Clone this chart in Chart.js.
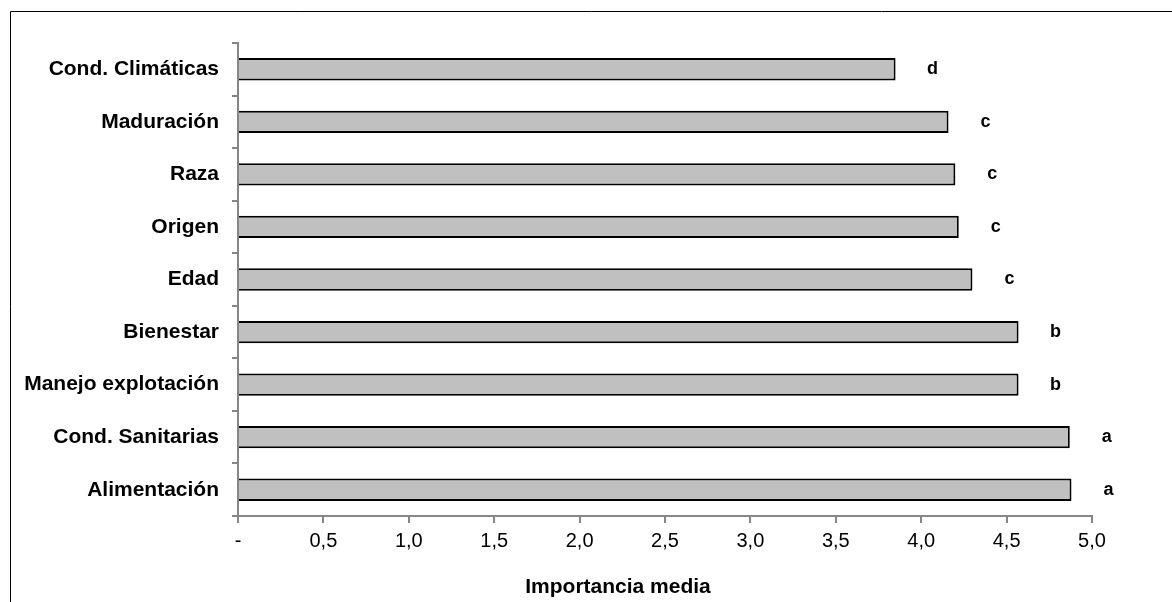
<!DOCTYPE html>
<html>
<head>
<meta charset="utf-8">
<script src="https://cdn.jsdelivr.net/npm/chart.js@4/dist/chart.umd.min.js"></script>
<style>
  html, body { margin: 0; padding: 0; background: #fff; }
  #wrap { width: 1172px; height: 602px; position: relative; }
</style>
</head>
<body>
<div id="wrap"><canvas id="c" width="1172" height="602"></canvas></div>
<script>
const categories = ['Cond. Climáticas', 'Maduración', 'Raza', 'Origen', 'Edad', 'Bienestar', 'Manejo explotación', 'Cond. Sanitarias', 'Alimentación'];
const meanImportance = [3.85, 4.16, 4.20, 4.22, 4.30, 4.57, 4.57, 4.87, 4.88];
const sigLetters = ['d', 'c', 'c', 'c', 'c', 'b', 'b', 'a', 'a'];
const xTickLabels = ['-', '0,5', '1,0', '1,5', '2,0', '2,5', '3,0', '3,5', '4,0', '4,5', '5,0'];
const xTitle = 'Importancia media';

const frame = {
  id: 'frame',
  beforeDraw(chart) {
    const ctx = chart.ctx;
    ctx.save();
    ctx.fillStyle = '#fff';
    ctx.fillRect(0, 0, chart.width, chart.height);
    ctx.strokeStyle = '#000';
    ctx.lineWidth = 1;
    ctx.beginPath();
    ctx.moveTo(10.5, chart.height);
    ctx.lineTo(10.5, 11.5);
    ctx.lineTo(chart.width, 11.5);
    ctx.stroke();
    ctx.restore();
  }
};

const letters = {
  id: 'letters',
  afterDatasetsDraw(chart) {
    const ctx = chart.ctx;
    const meta = chart.getDatasetMeta(0);
    ctx.save();
    ctx.fillStyle = '#000';
    ctx.font = 'bold 18px "Liberation Sans", Arial, sans-serif';
    ctx.textAlign = 'center';
    ctx.textBaseline = 'middle';
    meta.data.forEach((bar, i) => {
      ctx.fillText(sigLetters[i], bar.x + 37, bar.y);
    });
    ctx.restore();
  }
};

const axisTitle = {
  id: 'axisTitle',
  afterDraw(chart) {
    const ctx = chart.ctx;
    const a = chart.chartArea;
    ctx.save();
    ctx.fillStyle = '#000';
    ctx.font = 'bold 21px "Liberation Sans", Arial, sans-serif';
    ctx.textAlign = 'center';
    ctx.textBaseline = 'middle';
    ctx.fillText(xTitle, (a.left + a.right) / 2 - 47, a.bottom + 71);
    ctx.restore();
  }
};

new Chart(document.getElementById('c'), {
  type: 'bar',
  data: {
    labels: categories,
    datasets: [{
      data: meanImportance,
      backgroundColor: '#c0c0c0',
      borderColor: '#000',
      borderWidth: 2,
      borderSkipped: 'start',
      barPercentage: 0.425,
      categoryPercentage: 1.0
    }]
  },
  options: {
    indexAxis: 'y',
    responsive: false,
    animation: false,
    devicePixelRatio: 1,
    layout: { padding: { left: 0, top: 43, right: 80, bottom: 0 } },
    plugins: { legend: { display: false }, tooltip: { enabled: false } },
    scales: {
      x: {
        min: 0, max: 5,
        afterFit(s) { s.height = 86; },
        ticks: {
          stepSize: 0.5,
          color: '#000',
          font: { family: '"Liberation Sans", Arial, sans-serif', size: 20 },
          padding: 6,
          callback: (v, i) => xTickLabels[i]
        },
        grid: { display: true, drawOnChartArea: false, tickLength: 7, color: '#868686', lineWidth: 2 },
        border: { display: true, color: '#868686', width: 2 }
      },
      y: {
        afterFit(s) { s.width = 238; },
        ticks: {
          color: '#000',
          font: { family: '"Liberation Sans", Arial, sans-serif', size: 21, weight: 'bold' },
          padding: 13
        },
        grid: { display: true, drawOnChartArea: false, offset: true, tickLength: 6, color: '#868686', lineWidth: 2 },
        border: { display: true, color: '#868686', width: 2 }
      }
    }
  },
  plugins: [frame, letters, axisTitle]
});
</script>
</body>
</html>
